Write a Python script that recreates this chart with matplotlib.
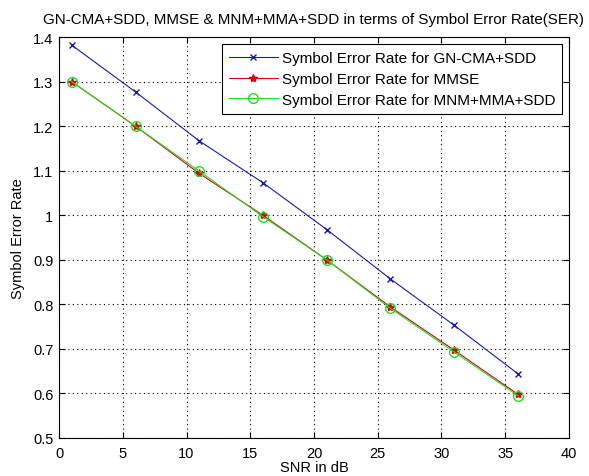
import matplotlib
matplotlib.use("Agg")
import matplotlib.pyplot as plt

snr = [1, 6, 11, 16, 21, 26, 31, 36]
ser_gncma = [1.382, 1.277, 1.167, 1.073, 0.968, 0.857, 0.753, 0.644]
ser_mmse = [1.300, 1.200, 1.094, 1.000, 0.900, 0.794, 0.697, 0.598]
ser_mnm = [1.300, 1.200, 1.099, 0.997, 0.900, 0.791, 0.693, 0.595]

xticks = [0, 5, 10, 15, 20, 25, 30, 35, 40]
yticks = [0.5, 0.6, 0.7, 0.8, 0.9, 1.0, 1.1, 1.2, 1.3, 1.4]
ytick_labels = ["0.5", "0.6", "0.7", "0.8", "0.9", "1", "1.1", "1.2", "1.3", "1.4"]

plt.rcParams['font.family'] = ['Liberation Sans', 'DejaVu Sans']

fig = plt.figure(figsize=(5.89, 4.77), dpi=100)
ax = fig.add_axes([0.1002, 0.0797, 0.8658, 0.8403])

ax.plot(snr, ser_gncma, color='#1a1ab0', marker='x', markersize=4, linewidth=0.8,
        label='Symbol Error Rate for GN-CMA+SDD')
ax.plot(snr, ser_mmse, color='#dd0010', marker='*', markersize=6, linewidth=0.8,
        label='Symbol Error Rate for MMSE')
ax.plot(snr, ser_mnm, color='#22dd22', marker='o', markersize=7, markerfacecolor='none',
        linewidth=0.8, label='Symbol Error Rate for MNM+MMA+SDD')

ax.set_xlim(0, 40)
ax.set_ylim(0.5, 1.4)
ax.set_xticks(xticks)
ax.set_yticks(yticks)
ax.set_yticklabels(ytick_labels)
ax.tick_params(direction='in', top=True, right=True, length=4, labelsize=10.5)
ax.tick_params(axis='x', pad=5.5)
ax.tick_params(axis='y', pad=4)
ax.grid(True, linestyle=(0, (1, 3)), color='black', linewidth=0.8)
for s in ax.spines.values():
    s.set_linewidth(0.8)

ax.set_title('GN-CMA+SDD, MMSE & MNM+MMA+SDD in terms of Symbol Error Rate(SER)',
             fontsize=10.9, pad=10)
ax.set_xlabel('SNR in dB', fontsize=10.5, labelpad=0)
ax.set_ylabel('Symbol Error Rate', fontsize=10.5, labelpad=6)

leg = ax.legend(loc='upper right', fontsize=11, frameon=True, fancybox=False,
                edgecolor='black', framealpha=1, handlelength=3.2,
                bbox_to_anchor=(0.9863, 0.9825), borderaxespad=0.0,
                labelspacing=0.45, handletextpad=0.25, borderpad=0.45)
leg.get_frame().set_linewidth(0.8)

fig.savefig('out.png', dpi=100)
